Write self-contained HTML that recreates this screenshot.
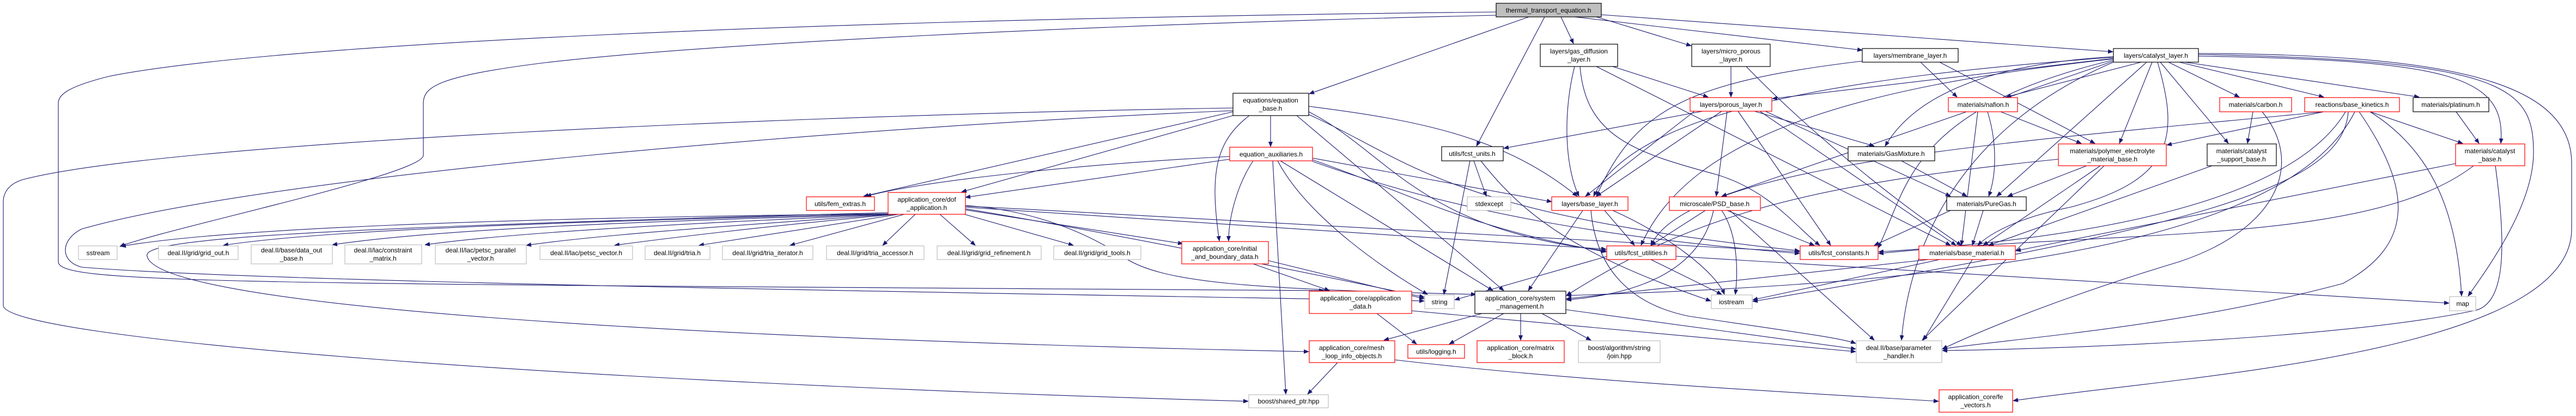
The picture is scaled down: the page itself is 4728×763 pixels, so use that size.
<!DOCTYPE html>
<html><head><meta charset="utf-8"><style>
html,body{margin:0;padding:0;background:#fff;}
svg{display:block;}
text{font-family:"Liberation Sans",sans-serif;font-size:12px;fill:#000;text-anchor:middle;}
.e{fill:none;stroke:#191970;stroke-width:1.1;marker-end:url(#a);}
.b{fill:#fff;stroke:#000;stroke-width:1.2;}
.r{fill:#fff;stroke:#ff0000;stroke-width:1.2;}
.g{fill:#fff;stroke:#bfbfbf;stroke-width:1.2;}
</style></head><body>
<svg width="4728" height="763" viewBox="0 0 4728 763" xmlns="http://www.w3.org/2000/svg">
<defs><marker id="a" markerWidth="10" markerHeight="8" refX="9" refY="4" orient="auto" markerUnits="userSpaceOnUse"><path d="M0,0 L10,4 L0,8 z" fill="#191970"/></marker></defs>
<g>
<!-- root -->
<path class="e" d="M2865,31 L2888,80"/>
<path class="e" d="M2930,31 L3104,84"/>
<path class="e" d="M2890,31 L3418,92"/>
<path class="e" d="M2939,27 L3878,95"/>
<path class="e" d="M2806,31 L2403,172"/>
<path class="e" d="M2835,31 L2710,268"/>
<path class="e" d="M2746,28 C2000,45 1300,80 1000,115 C800,140 777,160 777,190 L777,285 C777,320 300,420 220,452"/>
<path class="e" d="M2746,22 C1500,35 500,80 200,140 C120,160 107,175 107,190 L107,480 C107,520 400,520 2430,533"/>
<!-- eqb -->
<path class="e" d="M2263,198 C1500,210 300,260 40,330 C10,340 6,360 6,370 L6,560 C6,620 1000,700 2291,736"/>
<path class="e" d="M2263,203 C1600,230 500,320 150,420 C110,440 110,480 150,490 C500,520 2000,540 2614,552"/>
<path class="e" d="M2332,212 L2332,269"/>
<path class="e" d="M2263,205 L1585,360"/>
<path class="e" d="M2263,212 L1765,352"/>
<path class="e" d="M2293,212 C2230,260 2220,320 2238,442"/>
<path class="e" d="M2402,195 C2600,220 2760,250 2895,360"/>
<path class="e" d="M2402,205 C2550,280 2600,420 2948,460"/>
<path class="e" d="M2402,210 C2600,300 2650,390 3303,460"/>
<path class="e" d="M2380,212 L2760,533"/>
<!-- aux -->
<path class="e" d="M2257,287 C2000,300 1700,330 1590,360"/>
<path class="e" d="M2257,292 L1772,362"/>
<path class="e" d="M2300,295 C2270,340 2255,400 2255,442"/>
<path class="e" d="M2409,290 L2848,370"/>
<path class="e" d="M2409,293 C2600,360 2700,420 2948,462"/>
<path class="e" d="M2409,296 C2700,400 3000,440 3303,465"/>
<path class="e" d="M2350,295 L2740,533"/>
<path class="e" d="M2336,295 L2360,723"/>
<path class="e" d="M2345,295 C2400,400 2550,500 2620,540"/>
<!-- dof -->
<path class="e" d="M1630,392 C900,400 400,420 222,452"/>
<path class="e" d="M1630,392 C1100,405 600,420 410,450"/>
<path class="e" d="M1632,393 C1200,405 800,420 610,449"/>
<path class="e" d="M1635,393 C1300,408 950,425 780,449"/>
<path class="e" d="M1638,393 C1400,410 1100,430 966,450"/>
<path class="e" d="M1645,393 C1400,415 1200,440 1128,450"/>
<path class="e" d="M1650,393 L1283,450"/>
<path class="e" d="M1660,393 L1450,450"/>
<path class="e" d="M1680,393 L1620,450"/>
<path class="e" d="M1725,393 L1790,450"/>
<path class="e" d="M1770,393 L1970,450"/>
<path class="e" d="M1772,385 L2171,447"/>
<path class="e" d="M1772,380 L2948,457"/>
<path class="e" d="M1772,378 C2200,400 2600,420 3303,462"/>
<path class="e" d="M1772,377 C1900,385 2000,430 2060,470 C2130,520 2300,530 2709,540"/>
<path class="e" d="M1772,383 C2000,420 2400,500 2614,545"/>
<path class="e" d="M1630,390 C500,420 260,440 270,470 C290,560 1200,620 2402,645"/>
<!-- ibd, fu -->
<path class="e" d="M2300,484 L2440,533"/>
<path class="e" d="M2328,478 L2614,548"/>
<path class="e" d="M2705,295 L2728,360"/>
<path class="e" d="M2698,295 L2650,540"/>
<path class="e" d="M2718,295 C2800,400 2900,470 3140,552"/>
<!-- gdl mpl mem -->
<path class="e" d="M2890,122 C2870,200 2870,300 2898,360"/>
<path class="e" d="M2960,122 L3135,178"/>
<path class="e" d="M2900,122 C2910,250 3000,280 3150,320 C3250,350 3300,420 3340,450"/>
<path class="e" d="M2930,122 L3580,450"/>
<path class="e" d="M3177,122 L3177,178"/>
<path class="e" d="M3205,122 C3300,220 3450,350 3600,450"/>
<path class="e" d="M3418,112 C3100,150 3000,200 2930,360"/>
<path class="e" d="M3525,114 L3592,178"/>
<path class="e" d="M3560,114 L3845,263"/>
<!-- cat -->
<path class="e" d="M3879,107 L3253,181"/>
<path class="e" d="M3930,114 L3682,178"/>
<path class="e" d="M3950,114 L3890,263"/>
<path class="e" d="M3965,114 L4090,263"/>
<path class="e" d="M3980,114 L4110,178"/>
<path class="e" d="M4000,114 L4265,178"/>
<path class="e" d="M4010,114 L4440,178"/>
<path class="e" d="M4035,103 C4500,110 4600,140 4590,263"/>
<path class="e" d="M4035,100 C4600,110 4650,160 4650,280 C4650,380 4560,500 4530,543"/>
<path class="e" d="M4035,98 C4500,100 4720,150 4720,300 L4720,420 C4720,650 4000,690 3695,735"/>
<path class="e" d="M3940,114 L3665,360"/>
<path class="e" d="M3879,105 C3400,140 3000,200 2925,360"/>
<path class="e" d="M3879,108 C3400,160 3100,250 3012,450"/>
<path class="e" d="M3879,112 L3160,360"/>
<path class="e" d="M3879,110 C3500,200 3500,350 3447,455"/>
<path class="e" d="M3879,104 C3600,120 3500,200 3460,268"/>
<path class="e" d="M3960,114 C4000,250 3990,330 3800,380 C3700,400 3650,430 3630,450"/>
<path class="e" d="M3879,114 C3560,250 3500,500 3490,624"/>
<!-- por -->
<path class="e" d="M3125,204 L2760,272"/>
<path class="e" d="M3110,204 L2910,360"/>
<path class="e" d="M3160,204 L2930,360"/>
<path class="e" d="M3170,204 L3150,360"/>
<path class="e" d="M3190,204 L3360,450"/>
<path class="e" d="M3220,204 L3440,268"/>
<path class="e" d="M3240,204 L3580,360"/>
<path class="e" d="M3230,204 L3590,450"/>
<!-- bl psd fut -->
<path class="e" d="M2945,386 L3000,450"/>
<path class="e" d="M2905,386 L2805,533"/>
<path class="e" d="M2960,386 C3060,430 3150,500 3165,540"/>
<path class="e" d="M2920,386 C2930,500 3000,560 3100,580 C3300,610 3380,620 3406,630"/>
<path class="e" d="M3130,386 L3030,450"/>
<path class="e" d="M3145,386 C3120,500 3000,540 2875,550"/>
<path class="e" d="M3170,386 L3330,450"/>
<path class="e" d="M3160,386 C3190,430 3190,500 3185,540"/>
<path class="e" d="M3175,386 L3440,624"/>
<path class="e" d="M2950,470 L2670,550"/>
<path class="e" d="M3030,476 L3160,540"/>
<path class="e" d="M3076,470 L4495,556"/>
<!-- materials -->
<path class="e" d="M3490,295 L3610,360"/>
<path class="e" d="M3648,205 C3665,260 3665,320 3650,360"/>
<path class="e" d="M3672,205 L3820,263"/>
<path class="e" d="M3630,205 L3600,450"/>
<path class="e" d="M3830,304 L3685,360"/>
<path class="e" d="M3855,304 L3640,450"/>
<path class="e" d="M3862,304 L3528,624"/>
<path class="e" d="M3778,292 C3300,340 3100,400 2875,542"/>
<path class="e" d="M4060,304 L3650,450"/>
<path class="e" d="M4135,205 L4125,263"/>
<path class="e" d="M4152,205 C4230,300 4180,420 4000,480 C3800,540 3650,600 3565,640"/>
<path class="e" d="M4265,205 L3977,266"/>
<path class="e" d="M4350,205 L4520,263"/>
<path class="e" d="M4350,205 C4470,280 4510,400 4518,543"/>
<path class="e" d="M4265,205 C3700,260 3100,300 3030,450"/>
<path class="e" d="M4305,205 C4200,380 3800,440 3448,462"/>
<path class="e" d="M4310,205 C4300,350 4000,420 3217,553"/>
<path class="e" d="M4322,205 C4200,450 3600,520 2875,542"/>
<path class="e" d="M4330,205 C4430,350 4430,450 4300,520 C4000,600 3700,620 3565,640"/>
<path class="e" d="M4508,205 L4550,263"/>
<path class="e" d="M4507,300 L3700,460"/>
<path class="e" d="M4540,304 C4350,450 3900,420 3448,465"/>
<path class="e" d="M4580,304 C4600,450 4600,560 4540,570 C4300,620 3800,640 3565,643"/>
<path class="e" d="M3640,386 L3620,450"/>
<path class="e" d="M3580,386 L3440,450"/>
<path class="e" d="M3560,476 L3217,550"/>
<path class="e" d="M3620,476 L3530,624"/>
<path class="e" d="M3540,476 L2875,548"/>
<!-- sm ad ml -->
<path class="e" d="M2720,575 L2540,624"/>
<path class="e" d="M2760,575 L2660,631"/>
<path class="e" d="M2791,575 L2791,624"/>
<path class="e" d="M2830,575 L2920,624"/>
<path class="e" d="M2874,568 L3406,640"/>
<path class="e" d="M2527,575 L2600,631"/>
<path class="e" d="M2591,570 L3406,645"/>
<path class="e" d="M2455,665 L2400,723"/>
<path class="e" d="M2560,660 C2900,700 3300,720 3558,736"/>
</g>
<g>
<rect x="2746" y="6" width="193" height="25" fill="#bfbfbf" stroke="#000" stroke-width="1.2"/><text x="2842" y="23">thermal_transport_equation.h</text>
<rect class="b" x="2827" y="81" width="142" height="41"/><text x="2898" y="98">layers/gas_diffusion</text><text x="2898" y="113">_layer.h</text>
<rect class="b" x="3105" y="81" width="144" height="41"/><text x="3177" y="98">layers/micro_porous</text><text x="3177" y="113">_layer.h</text>
<rect class="b" x="3418" y="89" width="176" height="25"/><text x="3506" y="106">layers/membrane_layer.h</text>
<rect class="b" x="3879" y="89" width="156" height="25"/><text x="3957" y="106">layers/catalyst_layer.h</text>
<rect class="b" x="2263" y="171" width="139" height="41"/><text x="2332" y="188">equations/equation</text><text x="2332" y="203">_base.h</text>
<rect class="b" x="2646" y="269" width="113" height="26"/><text x="2702" y="286">utils/fcst_units.h</text>
<rect class="b" x="3392" y="269" width="159" height="26"/><text x="3471" y="286">materials/GasMixture.h</text>
<rect class="r" x="3102" y="179" width="150" height="25"/><text x="3177" y="196">layers/porous_layer.h</text>
<rect class="r" x="3576" y="179" width="127" height="26"/><text x="3640" y="196">materials/nafion.h</text>
<rect class="r" x="4074" y="179" width="132" height="26"/><text x="4140" y="196">materials/carbon.h</text>
<rect class="r" x="4230" y="179" width="174" height="26"/><text x="4317" y="196">reactions/base_kinetics.h</text>
<rect class="b" x="4429" y="179" width="139" height="26"/><text x="4498" y="196">materials/platinum.h</text>
<rect class="r" x="2257" y="270" width="152" height="25"/><text x="2333" y="287">equation_auxiliaries.h</text>
<rect class="r" x="3778" y="264" width="198" height="40"/><text x="3877" y="281">materials/polymer_electrolyte</text><text x="3877" y="296">_material_base.h</text>
<rect class="b" x="4051" y="264" width="127" height="40"/><text x="4114" y="281">materials/catalyst</text><text x="4114" y="296">_support_base.h</text>
<rect class="r" x="4507" y="264" width="127" height="40"/><text x="4570" y="281">materials/catalyst</text><text x="4570" y="296">_base.h</text>
<rect class="r" x="1480" y="361" width="125" height="25"/><text x="1542" y="378">utils/fem_extras.h</text>
<rect class="r" x="1630" y="353" width="142" height="40"/><text x="1701" y="370">application_core/dof</text><text x="1701" y="385">_application.h</text>
<rect class="g" x="2693" y="361" width="80" height="25"/><text x="2733" y="378">stdexcept</text>
<rect class="r" x="2848" y="361" width="140" height="25"/><text x="2918" y="378">layers/base_layer.h</text>
<rect class="r" x="3064" y="361" width="167" height="25"/><text x="3147" y="378">microscale/PSD_base.h</text>
<rect class="b" x="3573" y="361" width="146" height="25"/><text x="3646" y="378">materials/PureGas.h</text>
<rect class="g" x="144" y="451" width="71" height="25"/><text x="180" y="468">sstream</text>
<rect class="g" x="291" y="451" width="146" height="25"/><text x="364" y="468">deal.II/grid/grid_out.h</text>
<rect class="g" x="461" y="449" width="149" height="35"/><text x="535" y="463">deal.II/base/data_out</text><text x="535" y="478">_base.h</text>
<rect class="g" x="633" y="449" width="141" height="35"/><text x="703" y="463">deal.II/lac/constraint</text><text x="703" y="478">_matrix.h</text>
<rect class="g" x="799" y="449" width="167" height="35"/><text x="882" y="463">deal.II/lac/petsc_parallel</text><text x="882" y="478">_vector.h</text>
<rect class="g" x="991" y="451" width="170" height="25"/><text x="1076" y="468">deal.II/lac/petsc_vector.h</text>
<rect class="g" x="1184" y="451" width="119" height="25"/><text x="1243" y="468">deal.II/grid/tria.h</text>
<rect class="g" x="1326" y="451" width="166" height="25"/><text x="1409" y="468">deal.II/grid/tria_iterator.h</text>
<rect class="g" x="1517" y="451" width="179" height="25"/><text x="1606" y="468">deal.II/grid/tria_accessor.h</text>
<rect class="g" x="1720" y="451" width="191" height="25"/><text x="1815" y="468">deal.II/grid/grid_refinement.h</text>
<rect class="g" x="1934" y="451" width="160" height="25"/><text x="2014" y="468">deal.II/grid/grid_tools.h</text>
<rect class="r" x="2169" y="443" width="159" height="41"/><text x="2248" y="460">application_core/initial</text><text x="2248" y="475">_and_boundary_data.h</text>
<rect class="r" x="2949" y="451" width="127" height="25"/><text x="3012" y="468">utils/fcst_utilities.h</text>
<rect class="r" x="3304" y="451" width="143" height="25"/><text x="3375" y="468">utils/fcst_constants.h</text>
<rect class="r" x="3522" y="451" width="177" height="25"/><text x="3610" y="468">materials/base_material.h</text>
<rect class="r" x="2403" y="534" width="188" height="41"/><text x="2497" y="551">application_core/application</text><text x="2497" y="566">_data.h</text>
<rect class="g" x="2615" y="541" width="54" height="25"/><text x="2642" y="558">string</text>
<rect class="b" x="2707" y="534" width="167" height="41"/><text x="2790" y="551">application_core/system</text><text x="2790" y="566">_management.h</text>
<rect class="g" x="3141" y="541" width="75" height="25"/><text x="3178" y="558">iostream</text>
<rect class="g" x="4496" y="544" width="48" height="26"/><text x="4520" y="561">map</text>
<rect class="r" x="2403" y="625" width="157" height="40"/><text x="2481" y="642">application_core/mesh</text><text x="2481" y="657">_loop_info_objects.h</text>
<rect class="r" x="2584" y="632" width="104" height="25"/><text x="2636" y="649">utils/logging.h</text>
<rect class="r" x="2711" y="625" width="160" height="40"/><text x="2791" y="642">application_core/matrix</text><text x="2791" y="657">_block.h</text>
<rect class="g" x="2897" y="625" width="150" height="40"/><text x="2972" y="642">boost/algorithm/string</text><text x="2972" y="657">/join.hpp</text>
<rect class="g" x="3407" y="625" width="157" height="40"/><text x="3485" y="642">deal.II/base/parameter</text><text x="3485" y="657">_handler.h</text>
<rect class="g" x="2292" y="724" width="146" height="24"/><text x="2365" y="740">boost/shared_ptr.hpp</text>
<rect class="r" x="3559" y="715" width="135" height="41"/><text x="3626" y="732">application_core/fe</text><text x="3626" y="747">_vectors.h</text>
</g>
</svg>
</body></html>
